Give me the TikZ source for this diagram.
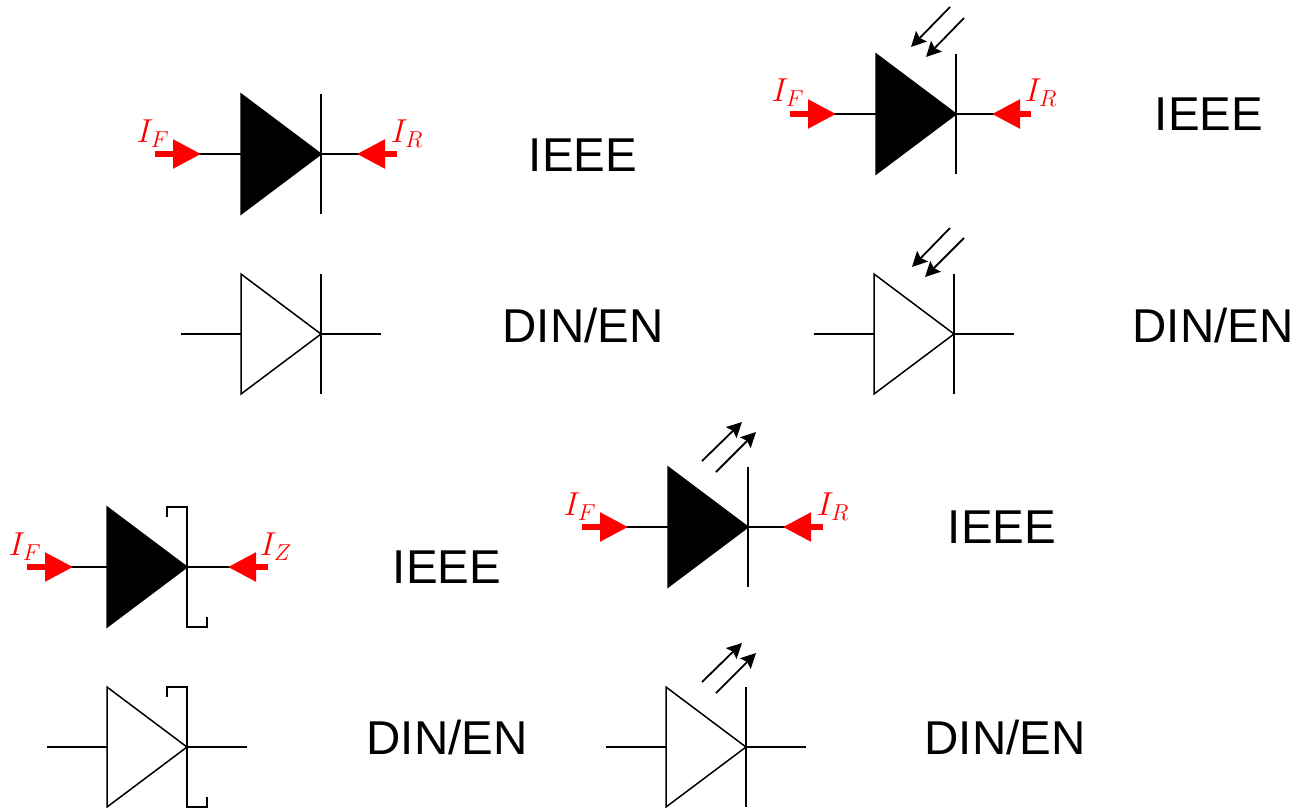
\documentclass[tikz,border=0pt]{standalone}
\usepackage{fontspec}
\setmainfont{Liberation Sans}
\usetikzlibrary{arrows.meta}
\tikzset{
	wire/.style={line width=1.5pt, color=black},
	current/.style={line width=5.5pt, color=red, -{Triangle[length=28pt,width=28pt]}},
	ray/.style={line width=1.8pt, color=black, -{Stealth[length=15pt,width=15pt,inset=2.5pt]}},
	curlabel/.style={color=red, inner sep=0pt, font=\fontsize{20}{24}\selectfont},
	norm/.style={inner sep=0pt, font=\fontsize{47.5}{50}\selectfont}
}
% triangle and bar, (x,y) is the cathode point
\def\diodebody[#1](#2,#3){\draw[wire, fill=#1] (#2-80,#3-60) -- (#2,#3) -- (#2-80,#3+60) -- cycle;
	\draw[wire] (#2,#3-60) -- (#2,#3+60);}
\def\zenerbody[#1](#2,#3){\draw[wire, fill=#1] (#2-80,#3-60) -- (#2,#3) -- (#2-80,#3+60) -- cycle;
	\draw[wire] (#2-20,#3-50) -- (#2-20,#3-60) -- (#2,#3-60) -- (#2,#3+60) -- (#2+20,#3+60) -- (#2+20,#3+50);}
\def\leads(#1,#2)(#3:#4){\draw[wire] (#3,#2) -- (#1-80,#2); \draw[wire] (#1,#2) -- (#4,#2);}
\def\curtext#1{\scalebox{1.6}{$I_{#1}$}}

\begin{document}
\begin{tikzpicture}[x=1pt, y=-1pt]
	\useasboundingbox (0, 0) rectangle (1306, 807);
	%%%%% TOP LEFT %%%%%

	\diodebody[black](321, 154);
	\leads(321, 154)(199:359);
	\draw[current] (155, 154) -- (201, 154);
	\draw[current] (397, 154) -- (357, 154);
	\node[curlabel] (ifa) at (153, 134) {\curtext{F}};
	\node[curlabel] (ira) at (407, 134) {\curtext{R}};
	\node[norm] (ieeea) at (583, 155) {IEEE};

	\diodebody[white](321, 334);
	\leads(321, 334)(181:381);
	\node[norm] (dina) at (583, 326) {DIN/EN};

	%%%%% TOP RIGHT %%%%%

	\diodebody[black](956, 114);
	\leads(956, 114)(834:994);
	\draw[current] (790, 114) -- (836, 114);
	\draw[current] (1031, 114) -- (992, 114);
	\draw[ray] (950, 7) -- (911, 47);
	\draw[ray] (964, 18) -- (926, 57);
	\node[curlabel] (ifb) at (788, 93) {\curtext{F}};
	\node[curlabel] (irb) at (1041, 93) {\curtext{R}};
	\node[norm] (ieeeb) at (1209, 114) {IEEE};

	\diodebody[white](954, 334);
	\leads(954, 334)(814:1014);
	\draw[ray] (950, 228) -- (912, 267);
	\draw[ray] (964, 238) -- (925, 277);
	\node[norm] (dinb) at (1213, 326) {DIN/EN};

	%%%%% BOTTOM LEFT %%%%%

	\zenerbody[black](187, 567);
	\leads(187, 567)(71:230);
	\draw[current] (27, 567) -- (73, 567);
	\draw[current] (268, 567) -- (228, 567);
	\node[curlabel] (ifc) at (25, 547) {\curtext{F}};
	\node[curlabel] (izc) at (276, 547) {\curtext{Z}};
	\node[norm] (ieeec) at (447, 567) {IEEE};

	\zenerbody[white](187, 747);
	\leads(187, 747)(47:247);
	\node[norm] (dinc) at (447, 738) {DIN/EN};

	%%%%% BOTTOM MIDDLE %%%%%

	\diodebody[black](748, 527);
	\leads(748, 527)(626:785);
	\draw[current] (582, 527) -- (628, 527);
	\draw[current] (823, 527) -- (783, 527);
	\draw[ray] (702, 461) -- (742, 422);
	\draw[ray] (716, 472) -- (756, 432);
	\node[curlabel] (ifd) at (580, 507) {\curtext{F}};
	\node[curlabel] (ird) at (833, 507) {\curtext{R}};
	\node[norm] (ieeed) at (1002, 527) {IEEE};

	\diodebody[white](746, 747);
	\leads(746, 747)(606:806);
	\draw[ray] (702, 682) -- (742, 643);
	\draw[ray] (716, 693) -- (756, 653);
	\node[norm] (dind) at (1005, 738) {DIN/EN};

	%%%%% END %%%%%
\end{tikzpicture}
\end{document}
